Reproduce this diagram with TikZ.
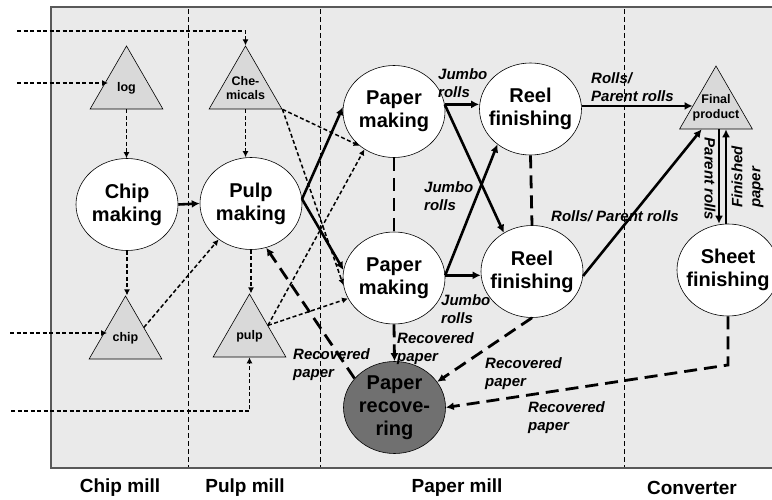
\documentclass[tikz,border=0pt]{standalone}
\usepackage{fontspec}
\setmainfont{Liberation Sans}
\usetikzlibrary{shapes.geometric}
\usetikzlibrary{arrows.meta}

\definecolor{boxgray}{HTML}{EAEAEA}
\definecolor{trigray}{HTML}{D9D9D9}
\definecolor{recgray}{HTML}{707070}

\begin{document}
\begin{tikzpicture}[x=1pt, y=-1pt,
    proc/.style={ellipse, draw, fill=white, line width=0.6pt,
        minimum width=102pt, minimum height=92pt, inner sep=0pt},
    proctext/.style={font=\fontsize{20}{23}\selectfont\bfseries, align=center, inner sep=0pt},
    stock/.style={regular polygon, regular polygon sides=3, draw, fill=trigray,
        line width=0.6pt, minimum size=84pt, inner sep=0pt},
    stocktext/.style={font=\fontsize{12.5}{14.5}\selectfont\bfseries, align=center, inner sep=0pt},
    flow/.style={line width=1.5pt, dash pattern=on 4pt off 2.5pt, -{Latex[length=6pt,width=6pt]}},
    prod/.style={line width=2.6pt, -{Latex[length=8pt,width=8pt]}},
    link/.style={line width=2.8pt, dash pattern=on 13pt off 7pt},
    recov/.style={link, -{Latex[length=8pt,width=8pt]}},
    lbl/.style={font=\fontsize{15}{18}\selectfont\bfseries\itshape, align=left, inner sep=0pt},
    mill/.style={font=\fontsize{19}{22}\selectfont\bfseries, inner sep=0pt}]

    \useasboundingbox (0,0) rectangle (772,500);

    \draw[fill=boxgray, draw=black!65, line width=1.2pt] (51,7) rectangle (778,468);
    \foreach \x in {188,320,624} {
        \draw[line width=0.8pt, dash pattern=on 5pt off 3pt] (\x,9) -- (\x,467);
    }

    % processes
    \node[proc, label={[proctext]center:Chip\\making}] (chipm) at (127,204.5) {};
    \node[proc, label={[proctext]center:Pulp\\making}] (pulpm) at (251,203.5) {};
    \node[proc, label={[proctext]center:Paper\\making}] (pm1) at (394,111.5) {};
    \node[proc, label={[proctext]center:Reel\\finishing}] (rf1) at (530.5,109) {};
    \node[proc, label={[proctext]center:Paper\\making}] (pm2) at (394,278) {};
    \node[proc, label={[proctext]center:Reel\\finishing}] (rf2) at (532,271.5) {};
    \node[proc, label={[proctext]center:Sheet\\finishing}] (sf) at (728,270) {};
    \node[proc, fill=recgray, label={[proctext]center:Paper\\recove-\\ring}] (pr) at (394.5,407.5) {};

    % stocks
    \node[stock, label={[stocktext]center:log}] (log) at (126.5,88) {};
    \node[stock, label={[stocktext]center:Che-\\micals}] (chem) at (245.5,88) {};
    \node[stock, label={[stocktext]center:chip}] (chip) at (125.5,338) {};
    \node[stock, label={[stocktext]center:pulp}] (pulp) at (249.5,336) {};
    \node[stock, label={[stocktext]center:Final\\product}] (final) at (716,108) {};

    \coordinate (in1) at (17,31);
    \coordinate (in2) at (17,83);
    \coordinate (in3) at (10,333);
    \coordinate (in4) at (11,411);
    \coordinate (sfbend) at (728,365);
    \coordinate (fdown) at ([xshift=3pt]final.side 2);
    \coordinate (fup) at ([xshift=10pt]final.side 2);

    % raw material flows
    \draw[flow] (in1) -| (chem.corner 1);
    \draw[flow] (in2) -- (in2 -| log.side 1);
    \draw[flow] (log.side 2) -- (log.side 2 |- chipm.north);
    \draw[flow] (chem.side 2) -- (chem.side 2 |- pulpm.north);
    \draw[flow] (chipm.south) -- (chipm.south |- chip.corner 1);
    \draw[flow] (in3) -- (in3 -| chip.side 1);
    \draw[flow] (chip.side 3) -- (pulpm.228);
    \draw[flow] (pulpm.south) -- (pulpm.south |- pulp.corner 1);
    \draw[flow] (in4) -| (pulp.side 2);
    \draw[flow] (chem.corner 3) -- (pm1.225);
    \draw[flow] (chem.corner 3) -- (pm2.188);
    \draw[flow] (pulp.side 3) -- (pm1.232);
    \draw[flow] (pulp.side 3) -- (pm2.204);

    % product flows
    \draw[prod] (chipm.east) -- (pulpm.west);
    \draw[prod] (pulpm.5) -- (pm1.175);
    \draw[prod] (pulpm.5) -- (pm2.171);
    \draw[link] (pm1.south) -- (pm2.north);
    \draw[link] (rf1.south) -- (rf2.north);
    \draw[prod] (pm1.8) -- (pm1.8 -| rf1.west);
    \draw[prod] (pm1.8) -- (rf2.126);
    \draw[prod] (pm2.3) -- (rf1.227);
    \draw[prod] (pm2.3) -- (pm2.3 -| rf2.west);
    \draw[prod] (rf1.east |- final.175) -- (final.175);
    \draw[prod] (rf2.355) -- (final.236);
    \draw[prod] (fdown) -- (fdown |- sf.north);
    \draw[prod] (fup |- sf.north) -- (fup);

    % recovered paper
    \draw[recov] (rf2.south) -- (pr.31);
    \draw[recov] (pm2.south) -- (pr.north);
    \draw[recov] (pr.144) -- (pulpm.289);
    \draw[recov] (sf.south) -- (sfbend) -- (pr.east);

    \node[lbl, anchor=west] (j1) at (438,83.5) {Jumbo\\rolls};
    \node[lbl, anchor=west] (j2) at (424,196.5) {Jumbo\\rolls};
    \node[lbl, anchor=west] (j3) at (441,309) {Jumbo\\rolls};
    \node[lbl, anchor=west] (r1) at (591,87.5) {Rolls/\\Parent rolls};
    \node[lbl] (r2) at (615,216) {Rolls/ Parent rolls};
    \node[lbl, rotate=-90] (prl) at (710,179) {Parent rolls};
    \node[lbl, rotate=90, anchor=west] (fp) at (747.5,208) {Finished\\paper};
    \node[lbl, anchor=west] (rp1) at (293,365) {Recovered\\paper};
    \node[lbl, anchor=west] (rp2) at (397,349) {Recovered\\paper};
    \node[lbl, anchor=west] (rp3) at (485,373.5) {Recovered\\paper};
    \node[lbl, anchor=west] (rp4) at (528,418) {Recovered\\paper};

    \node[mill] (cm) at (120,488) {Chip mill};
    \node[mill] (pmill) at (245,488) {Pulp mill};
    \node[mill] (pamill) at (457,488) {Paper mill};
    \node[mill] (conv) at (692,488) {Converter};
\end{tikzpicture}
\end{document}
